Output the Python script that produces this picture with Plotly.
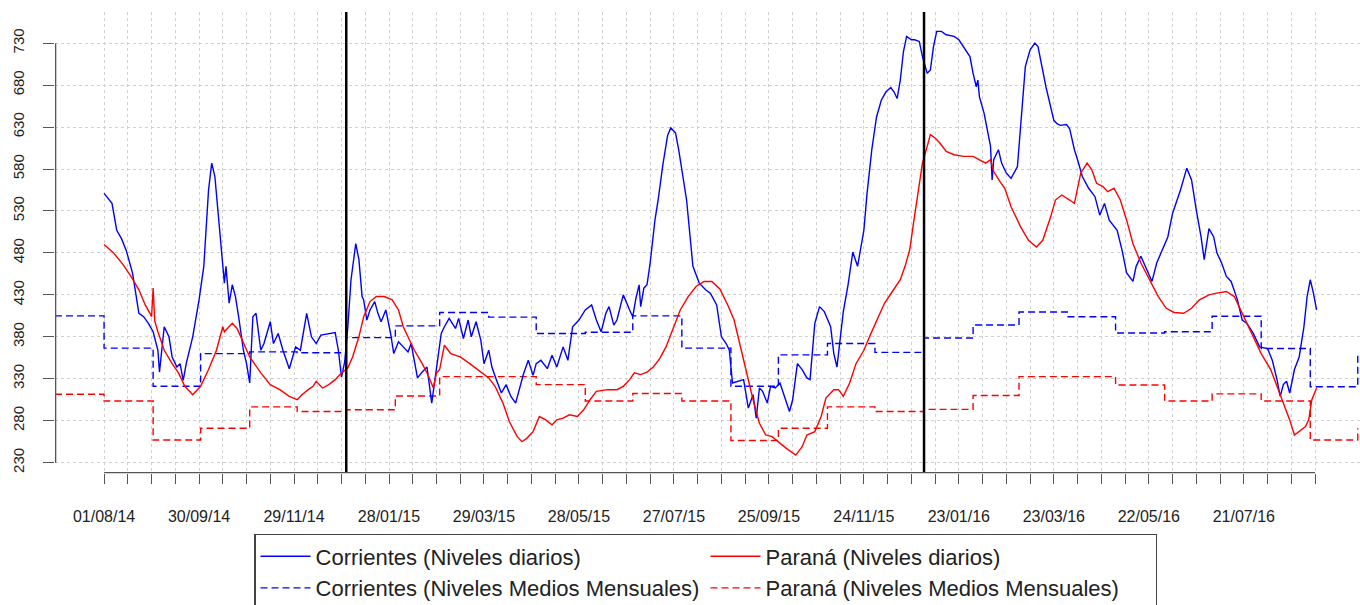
import pandas as pd
import plotly.graph_objects as go

inicio = pd.Timestamp("2014-08-01")

# Corrientes - niveles diarios (dia desde 01/08/14, nivel en cm)
corr_dia = [0, 5, 8, 11, 14, 18, 22, 25, 28, 31, 34, 35, 38, 41, 43, 46, 48, 50, 52, 56,
            60, 63, 66, 68, 70, 72, 75, 76, 77, 79, 81, 83, 85, 88, 90, 92, 94, 96, 99, 101,
            105, 107, 110, 113, 117, 121, 124, 128, 131, 134, 137, 142, 146, 148, 150, 152, 154, 156, 159, 161,
            163, 164, 166, 168, 171, 173, 175, 178, 181, 183, 186, 189, 192, 194, 198, 201, 204, 207, 210, 213,
            215, 218, 222, 224, 227, 230, 232, 235, 238, 240, 243, 245, 248, 251, 254, 257, 260, 263, 265, 268,
            271, 273, 276, 280, 283, 286, 290, 293, 296, 300, 304, 308, 311, 314, 317, 319, 322, 324, 328, 332,
            334, 336, 338, 339, 341, 343, 345, 348, 350, 353, 356, 358, 361, 363, 368, 372, 376, 380, 383, 387,
            390, 393, 395, 397, 401, 404, 407, 410, 412, 414, 416, 419, 421, 424, 427, 430, 433, 435, 438, 441,
            444, 446, 449, 452, 455, 459, 461, 463, 465, 467, 470, 473, 476, 480, 482, 485, 488, 491, 494, 497,
            499, 501, 503, 505, 507, 510, 512, 515, 517, 520, 522, 524, 526, 529, 532, 537, 540, 543, 545, 547,
            549, 551, 552, 553, 556, 558, 560, 561, 562, 565, 567, 570, 573, 577, 579, 582, 585, 588, 590, 592,
            595, 600, 602, 604, 608, 610, 611, 613, 615, 618, 622, 626, 629, 632, 635, 640, 643, 646, 650, 652,
            655, 659, 662, 665, 669, 672, 675, 680, 684, 687, 690, 693, 695, 698, 701, 703, 706, 709, 712, 716,
            719, 722, 726, 730, 735, 738, 741, 743, 745, 747, 749, 752, 755, 758, 760, 762, 764, 766]
corr_val = [551, 539, 507, 497, 483, 456, 408, 404, 396, 386, 364, 338, 392, 380, 356, 344, 348, 328, 349, 380,
            424, 464, 555, 587, 571, 531, 468, 444, 464, 420, 442, 428, 404, 364, 348, 325, 404, 408, 364, 372,
            398, 372, 384, 364, 342, 368, 364, 408, 380, 372, 382, 384, 385, 364, 332, 350, 392, 448, 491, 472,
            428, 424, 400, 412, 422, 408, 398, 412, 384, 360, 374, 368, 362, 372, 331, 338, 344, 301, 340, 384,
            392, 402, 390, 402, 378, 400, 380, 398, 376, 348, 364, 344, 328, 313, 323, 309, 301, 321, 336, 352,
            334, 348, 352, 342, 358, 344, 368, 352, 392, 400, 412, 418, 400, 386, 408, 416, 394, 400, 430, 412,
            404, 426, 442, 416, 438, 442, 468, 519, 543, 585, 620, 629, 623, 603, 543, 464, 444, 436, 432, 418,
            380, 372, 364, 325, 327, 329, 295, 311, 283, 319, 315, 301, 321, 319, 325, 309, 291, 305, 348, 341,
            331, 329, 396, 416, 410, 392, 360, 344, 380, 410, 442, 481, 464, 507, 551, 603, 642, 662, 672, 677,
            672, 664, 686, 720, 738, 734, 734, 732, 714, 694, 698, 726, 744, 744, 740, 738, 734, 726, 720, 714,
            694, 678, 686, 666, 646, 627, 607, 567, 591, 603, 587, 575, 569, 583, 634, 702, 722, 730, 726, 708,
            678, 638, 634, 632, 633, 628, 620, 603, 591, 571, 557, 547, 525, 539, 519, 507, 484, 456, 446, 464,
            476, 460, 446, 468, 487, 499, 527, 555, 581, 567, 531, 499, 472, 509, 499, 480, 468, 452, 446, 424,
            400, 396, 384, 368, 366, 352, 329, 309, 323, 327, 313, 341, 356, 392, 428, 448, 432, 412]

# Parana - niveles diarios
par_dia = [0, 6, 12, 17, 22, 26, 29, 30, 31, 32, 34, 38, 43, 47, 51, 56, 61, 66, 71, 75,
           76, 81, 84, 88, 92, 99, 105, 111, 117, 122, 125, 129, 132, 134, 138, 142, 146, 149, 154, 157,
           161, 164, 168, 172, 177, 182, 186, 189, 192, 196, 201, 205, 208, 210, 212, 215, 219, 225, 231, 238,
           243, 247, 252, 256, 261, 264, 267, 271, 275, 279, 283, 286, 290, 294, 299, 303, 307, 311, 318, 324,
           328, 332, 335, 339, 343, 347, 351, 355, 360, 364, 369, 374, 379, 384, 389, 394, 398, 402, 406, 410,
           414, 418, 422, 427, 431, 437, 441, 444, 449, 453, 456, 461, 464, 467, 471, 475, 480, 484, 489, 493,
           498, 503, 506, 509, 511, 514, 517, 520, 522, 525, 528, 532, 537, 543, 549, 553, 557, 560, 562, 566,
           569, 573, 579, 584, 589, 593, 598, 601, 605, 610, 613, 617, 621, 624, 627, 631, 634, 638, 642, 646,
           650, 655, 661, 666, 671, 676, 682, 687, 692, 698, 703, 709, 714, 718, 722, 726, 731, 737, 742, 746,
           749, 752, 755, 759, 761, 763, 766]
par_val = [490, 480, 466, 452, 436, 418, 408, 404, 438, 399, 386, 364, 348, 337, 321, 311, 321, 341, 364, 392,
           386, 396, 390, 372, 356, 337, 323, 317, 309, 305, 311, 317, 321, 327, 319, 323, 329, 335, 343, 356,
           380, 404, 422, 428, 428, 424, 412, 392, 380, 364, 348, 333, 319, 337, 341, 370, 360, 356, 348, 338,
           331, 321, 301, 279, 261, 255, 259, 267, 285, 281, 275, 281, 283, 287, 285, 293, 305, 315, 317, 317,
           321, 329, 337, 335, 338, 344, 354, 368, 392, 412, 428, 440, 446, 446, 437, 418, 400, 368, 337, 305,
           277, 263, 261, 253, 247, 239, 249, 263, 267, 285, 307, 317, 317, 309, 325, 348, 364, 382, 404, 420,
           434, 448, 464, 484, 511, 551, 587, 607, 621, 617, 611, 601, 597, 595, 595, 591, 587, 591, 577, 565,
           557, 535, 511, 495, 487, 495, 523, 543, 549, 543, 539, 575, 587, 579, 563, 559, 553, 557, 543, 519,
           491, 468, 446, 428, 414, 409, 408, 414, 424, 430, 432, 434, 428, 412, 396, 380, 360, 341, 317, 297,
           281, 263, 267, 273, 281, 305, 319]

# Niveles medios mensuales (desde julio 2014 hasta octubre 2016)
meses = pd.date_range("2014-07-01", periods=28, freq="MS")
corr_medio = [405, 366.5, 321, 360, 362, 361, 379, 393, 409, 403.5, 384, 385.5,
              405, 366.5, 321, 358.5, 372, 361.5, 378.5, 394, 409.5, 404, 384.5, 386,
              404.5, 366, 320.5, 360.5]
par_medio = [311.5, 303.5, 257, 271, 296.5, 291, 293, 309.5, 332.5, 332.5, 323, 303.5,
             312.5, 303.5, 256.5, 271, 296.5, 291, 293.5, 310, 332.5, 332.5, 322.5, 303.5,
             312, 303.5, 257, 271]

y_ticks = list(range(230, 731, 50))
x_tick_dias = list(range(0, 766, 15))
x_ticks = [inicio + pd.Timedelta(days=d) for d in x_tick_dias]
x_labels = [t.strftime("%d/%m/%y") if i % 4 == 0 else "" for i, t in enumerate(x_ticks)]
cambios_anio = ["2015-01-01", "2016-01-01"]

def fechas(dias):
    return [inicio + pd.Timedelta(days=d) for d in dias]

FONT = "Liberation Sans, Arial, sans-serif"
fig = go.Figure()
fig.add_trace(go.Scatter(x=meses, y=corr_medio, mode="lines", line_shape="hv",
                         line=dict(color="#0000FF", width=1.4, dash="7px,4px"),
                         name="Corrientes (Niveles Medios Mensuales)", legendrank=3))
fig.add_trace(go.Scatter(x=meses, y=par_medio, mode="lines", line_shape="hv",
                         line=dict(color="#FF0000", width=1.4, dash="7px,4px"),
                         name="Paraná (Niveles Medios Mensuales)", legendrank=4))
fig.add_trace(go.Scatter(x=fechas(corr_dia), y=corr_val, mode="lines",
                         line=dict(color="#0000FF", width=1.4),
                         name="Corrientes (Niveles diarios)", legendrank=1))
fig.add_trace(go.Scatter(x=fechas(par_dia), y=par_val, mode="lines",
                         line=dict(color="#FF0000", width=1.4),
                         name="Paraná (Niveles diarios)", legendrank=2))

shapes = []
for f in cambios_anio:
    shapes.append(dict(type="line", xref="x", yref="paper", x0=f, x1=f, y0=0, y1=1,
                       line=dict(color="black", width=2.5)))
shapes.append(dict(type="line", xref="x", yref="paper", x0=x_ticks[0], x1=x_ticks[-1],
                   y0=0.001, y1=0.001, line=dict(color="#555555", width=1.3)))
shapes.append(dict(type="line", xref="paper", yref="y", x0=0.0005, x1=0.0005,
                   y0=y_ticks[0], y1=y_ticks[-1], line=dict(color="#555555", width=1.3)))

fig.update_layout(
    width=1360, height=605,
    margin=dict(l=55, r=0, t=12, b=132, autoexpand=False),
    paper_bgcolor="white", plot_bgcolor="white",
    font=dict(family=FONT, color="#222222"),
    shapes=shapes,
    showlegend=True,
    legend=dict(orientation="h", x=0.1525, y=-0.1323, xanchor="left", yanchor="top",
                entrywidth=385, itemwidth=50, bordercolor="#444444", borderwidth=1.5,
                bgcolor="white", font=dict(size=22, family=FONT, color="#222222"),
                tracegroupgap=0),
    xaxis=dict(range=["2014-07-01", "2016-10-02 10:00"], tickvals=x_ticks, ticktext=x_labels,
               automargin=False,
               ticks="outside", ticklen=10, tickwidth=1.2, tickcolor="#555555",
               tickfont=dict(size=16, family=FONT, color="#222222"), ticklabelstandoff=19,
               showgrid=True, gridcolor="#d0d0d0", griddash="dot", gridwidth=1,
               showline=False, zeroline=False),
    yaxis=dict(range=[217.7, 767.1], tickvals=y_ticks, ticks="outside", ticklen=11,
               automargin=False,
               tickwidth=1.2, tickcolor="#555555", tickangle=-90,
               tickfont=dict(size=15, family=FONT, color="#222222"), ticklabelstandoff=13,
               showgrid=True, gridcolor="#d0d0d0", griddash="dot", gridwidth=1,
               showline=False, zeroline=False),
)

fig.write_html("out.html", config={"displayModeBar": False},
               post_script="document.body.style.margin='0px';document.body.style.overflow='hidden';")
